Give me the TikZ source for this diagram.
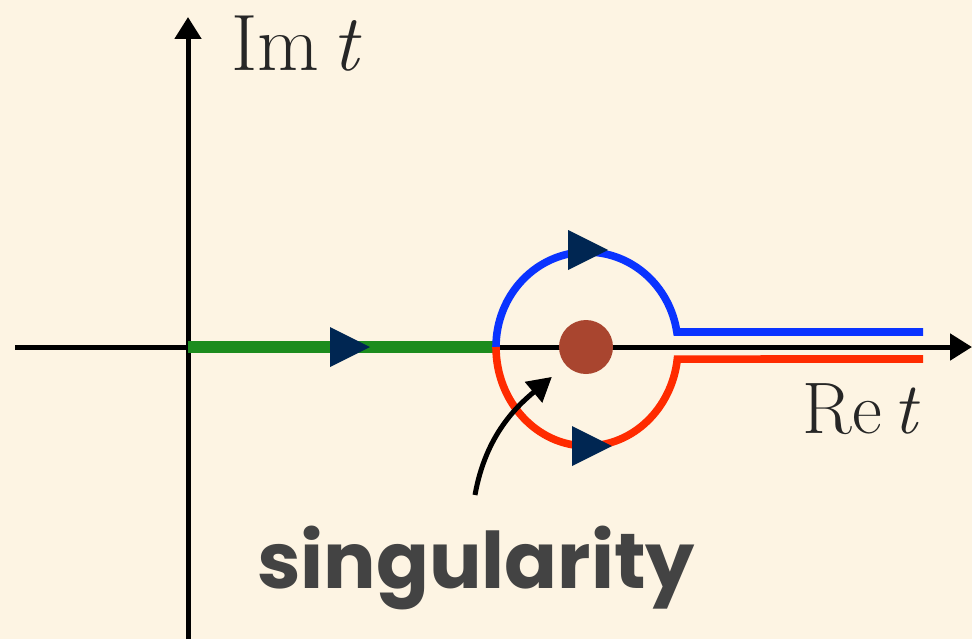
\documentclass[tikz,border=0pt]{standalone}
\usepackage{fontspec}
\newfontfamily\labelfont{Poppins}
\usetikzlibrary{arrows.meta}

\definecolor{bgcream}{HTML}{FDF4E3}
\definecolor{navy}{HTML}{002652}
\definecolor{curveblue}{HTML}{0A33FF}
\definecolor{curvered}{HTML}{FF2B00}
\definecolor{pathgreen}{HTML}{1C8C1E}
\definecolor{dotbrown}{HTML}{A9452F}
\definecolor{labelgray}{HTML}{434343}

\tikzset{
  axis/.style={line width=2.5pt, -{Triangle[length=11pt,width=13pt]}},
  branch/.style={line width=3.8pt},
  flow/.style={fill=navy},
  pointer/.style={line width=2.5pt, -{Triangle[length=12pt,width=13pt]}, shorten >=9pt},
  axislabel/.style={inner sep=0, text=black!85, anchor=base west}
}

\begin{document}
\begin{tikzpicture}[x=0.5pt,y=0.5pt]
  \fill[bgcream] (0,0) rectangle (972,639);
  \useasboundingbox (0,0) rectangle (972,639);

  % axes
  \coordinate (O) at (188,292);
  \coordinate (xstart) at (15,292);
  \coordinate (xend) at (972,292);
  \coordinate (ybot) at (188,0);
  \coordinate (ytop) at (188,622);
  \draw[axis] (xstart) -- (xend);
  \draw[axis] (ybot) -- (ytop);
  \node[axislabel, font=\fontsize{40}{42}\selectfont] (imlbl) at (231,569) {Im\,\textit{t}};
  \node[axislabel, font=\fontsize{36.5}{38}\selectfont] (relbl) at (802,206) {Re\,\textit{t}};

  % contour
  \coordinate (fork) at (496,292);
  \coordinate (blueend) at (923,307);
  \coordinate (redend) at (923,280);
  \draw[line width=6pt, pathgreen] (O) -- (fork);
  \draw[branch, curveblue] (fork) arc[start angle=180, end angle=9.1, x radius=91, y radius=95] -- (blueend);
  \draw[branch, curvered] (fork) arc[start angle=180, end angle=353, x radius=91, y radius=99] -- (redend);
  \foreach \tip in {(370,292),(608,389),(612,193)}
    \fill[flow] \tip -- ++(-40,20) -- ++(0,-40) -- cycle;

  % singularity
  \node[circle, fill=dotbrown, minimum size=27pt, inner sep=0] (sing) at (586,292) {};
  \node[font=\labelfont\bfseries\fontsize{39}{44}\selectfont, text=labelgray, anchor=base, inner sep=0] (singlbl) at (476,51) {singularity};
  \coordinate (tail) at (475,144);
  \draw[pointer] (tail) to[out=80,in=220] (sing.222);
\end{tikzpicture}
\end{document}
